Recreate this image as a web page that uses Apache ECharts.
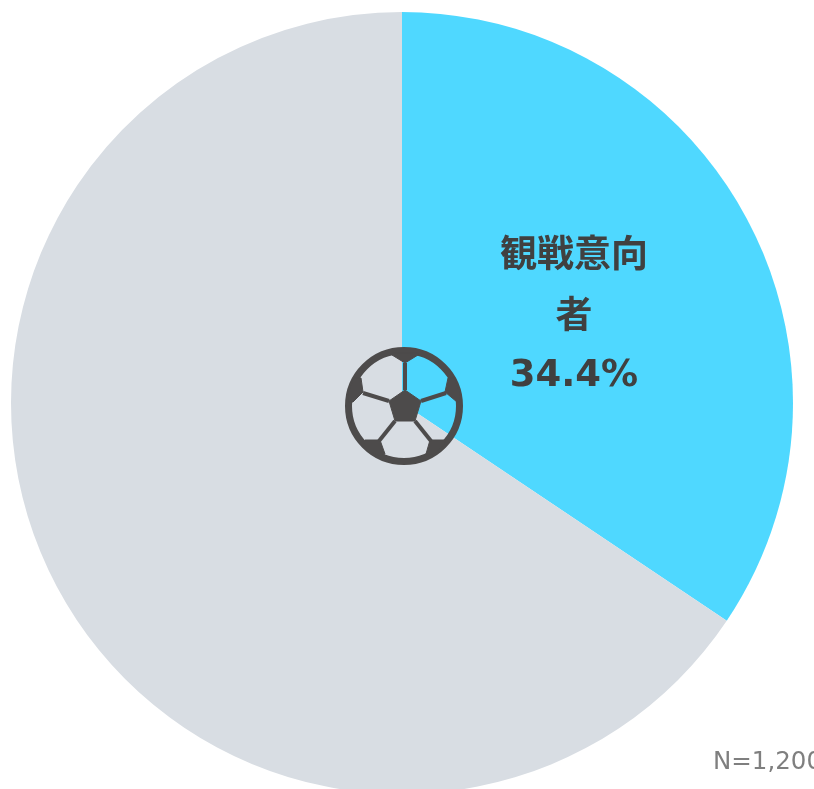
<!DOCTYPE html>
<html>
<head>
<meta charset="utf-8">
<style>
html, body { margin: 0; padding: 0; background: #fff; overflow: hidden; }
#piechart { width: 814px; height: 789px; }
</style>
<script src="https://cdn.jsdelivr.net/npm/echarts@6/dist/echarts.min.js"></script>
</head>
<body>
<div id="piechart"></div>
<script>
var categories = ['観戦意向\n者', 'その他'];
var values = [34.4, 65.6];
var colors = ['#4FD8FF', '#D8DDE3'];
var sampleNote = 'N=1,200';

var myChart = echarts.init(document.getElementById('piechart'));

var servicedata = [];
for (var i = 0; i < categories.length; i++) {
    servicedata.push({
        name: categories[i],
        value: values[i],
        itemStyle: { color: colors[i] },
        label: { show: i === 0 }
    });
}

// soccer ball icon over the pie centre
var ballColor = '#4D4B4B';
var ballX = 404, ballY = 406;

function patch(points) {
    return {
        type: 'polygon',
        x: ballX,
        y: ballY,
        z: 10,
        silent: true,
        shape: { points: points },
        style: { fill: ballColor, stroke: ballColor, lineWidth: 1, lineJoin: 'round' }
    };
}
function spoke(x1, y1, x2, y2) {
    return {
        type: 'line',
        x: ballX,
        y: ballY,
        z: 10,
        silent: true,
        shape: { x1: x1, y1: y1, x2: x2, y2: y2 },
        style: { stroke: ballColor, lineWidth: 4 }
    };
}

var ball = [
    {
        type: 'circle',
        x: ballX,
        y: ballY,
        z: 10,
        silent: true,
        shape: { r: 55.5 },
        style: { fill: 'transparent', stroke: ballColor, lineWidth: 7 }
    },
    patch([[1, -16], [17, -5], [11, 15], [-9, 15], [-15, -5]]),
    patch([[-12, -53], [14, -53], [14, -51], [1, -43], [-12, -51]]),
    patch([[44, -28], [41, -14], [53, -4], [56, -4], [55, -15], [50, -28]]),
    patch([[-43, -28], [-41, -14], [-51, -4], [-56, -4], [-55, -15], [-50, -28]]),
    patch([[-39, 34], [-24, 34], [-19, 48], [-25, 50], [-32, 46], [-40, 38]]),
    patch([[26, 34], [41, 34], [41, 37], [33, 46], [27, 49], [22, 48]]),
    spoke(1, -16, 1, -43),
    spoke(17, -5, 42, -13),
    spoke(-15, -5, -41, -13),
    spoke(-9, 15, -25, 35),
    spoke(11, 15, 27, 35)
];

var option = {
    animation: false,
    series: [
        {
            name: '観戦意向',
            type: 'pie',
            center: [402, 403],
            radius: [0, 391],
            startAngle: 90,
            clockwise: true,
            silent: true,
            data: servicedata,
            itemStyle: { borderWidth: 0 },
            labelLine: { show: false },
            label: {
                position: 'inside',
                formatter: function (p) {
                    return '{cjk|' + p.name.split('\n').join('}\n{cjk|') + '}\n{num|' + p.value + '%}';
                },
                rich: {
                    cjk: {
                        color: '#404040',
                        fontFamily: '"Noto Sans CJK JP", sans-serif',
                        fontWeight: 'bold',
                        fontSize: 37,
                        lineHeight: 61
                    },
                    num: {
                        color: '#404040',
                        fontFamily: '"DejaVu Sans", sans-serif',
                        fontWeight: 'bold',
                        fontSize: 37,
                        lineHeight: 61,
                        padding: [3, 0, 0, 0]
                    }
                },
                align: 'center',
                verticalAlign: 'middle'
            },
            labelLayout: {
                x: 574,
                y: 314,
                align: 'center',
                verticalAlign: 'middle'
            }
        }
    ],
    graphic: ball.concat([
        {
            type: 'text',
            x: 713,
            y: 763,
            z: 10,
            silent: true,
            style: {
                text: sampleNote,
                fill: '#7F7F7F',
                font: '24.5px "DejaVu Sans", sans-serif',
                textVerticalAlign: 'middle'
            }
        }
    ])
};
myChart.setOption(option);
</script>
</body>
</html>
